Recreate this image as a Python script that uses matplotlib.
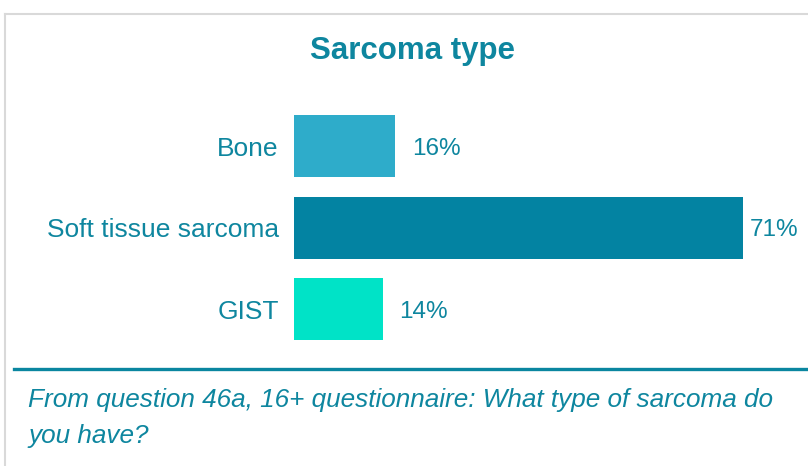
import matplotlib.pyplot as plt
from matplotlib.lines import Line2D

# data
categories = ['Bone', 'Soft tissue sarcoma', 'GIST']
values = [16, 71, 14]
bar_colors = ['#2EACCA', '#0383A2', '#00E3C7']

teal = '#0E869F'
plt.rcParams['font.family'] = ['Liberation Sans', 'DejaVu Sans']

W, H = 808, 466
fig = plt.figure(figsize=(W / 100, H / 100), dpi=100)

# grey frame (top and left edges visible)
fig.add_artist(Line2D([5 / W, 5 / W], [0, 1 - 14 / H], color='#D9D9D9', lw=1.5))
fig.add_artist(Line2D([5 / W, 1], [1 - 14 / H, 1 - 14 / H], color='#D9D9D9', lw=1.5))

# title
fig.text(413 / W, 1 - 47 / H, 'Sarcoma type', ha='center', va='center_baseline',
         fontsize=22.5, fontweight='bold', color=teal)

# bar axes
ax = fig.add_axes([294 / W, 1 - 350 / H, 449 / W, 244.5 / H])
y = range(len(categories))
ax.barh(y, values, height=0.76, color=bar_colors)
ax.set_xlim(0, 71)
ax.set_ylim(2.5, -0.5)
for s in ax.spines.values():
    s.set_visible(False)
ax.set_xticks([])
ax.set_yticks(list(y))
ax.set_yticklabels(categories, fontsize=19, color=teal)
ax.tick_params(axis='y', length=0, pad=11)
for i, v in enumerate(values):
    ax.annotate(f'{v}%', (v, i), xytext=(5 if v > 50 else 12, 0),
                textcoords='offset points', va='center_baseline', ha='left',
                fontsize=17.5, color=teal, annotation_clip=False)

# separator line
fig.add_artist(Line2D([14 / W, 1], [1 - 369 / H, 1 - 369 / H], color='#0A86A0', lw=2.4))

# footnote
fig.text(28 / W, 1 - 398 / H, 'From question 46a, 16+ questionnaire: What type of sarcoma do',
         ha='left', va='center_baseline', fontsize=18.8, style='italic', color=teal)
fig.text(28 / W, 1 - 433 / H, 'you have?',
         ha='left', va='center_baseline', fontsize=18.8, style='italic', color=teal)

fig.savefig('out.png', dpi=100, facecolor='white')
